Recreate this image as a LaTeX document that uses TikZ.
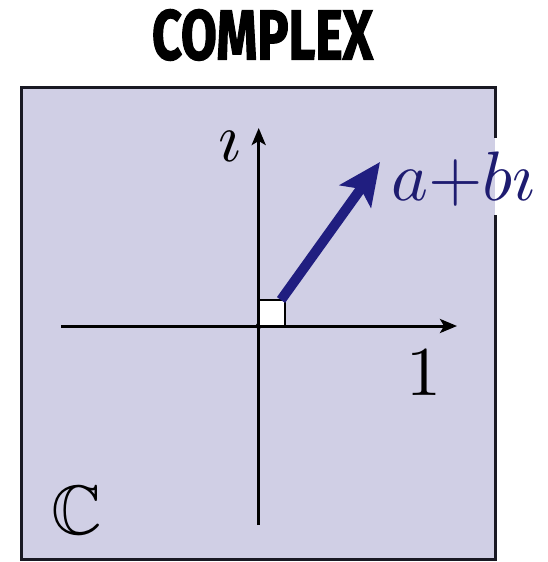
\documentclass[tikz,border=0pt]{standalone}
\usepackage{fontspec}
\usepackage{amssymb}
\usepackage{graphicx}
\usetikzlibrary{arrows.meta}
\newfontfamily\titlefont[BoldFeatures={FakeBold=2}]{Fira Sans}
\definecolor{planefill}{RGB}{208,207,229}
\definecolor{vecblue}{RGB}{32,30,128}
\definecolor{labblue}{RGB}{30,28,112}
\definecolor{borderc}{RGB}{25,25,35}
\tikzset{
  axisline/.style={line width=3pt, black, -{Stealth[length=17pt,width=14pt,inset=4pt]}},
  biglabel/.style={inner sep=0pt},
}
\newcommand{\hugemath}[1]{\scalebox{7}{$#1$}}
\begin{document}
\begin{tikzpicture}[x=1pt,y=-1pt]
\useasboundingbox (0,0) rectangle (548,562);
% title
\node[inner sep=0pt] (title) at (262.5,35) {\resizebox{221pt}{50pt}{\titlefont\bfseries COMPLEX}};
% plane
\fill[planefill] (21,87) rectangle (495,559);
\draw[borderc, line width=3pt] (495,215) -- (495,559) -- (21,559) -- (21,87) -- (495,87) -- (495,138);
% axes
\coordinate (o) at (258.7,326);
\coordinate (xl) at (61,326);
\coordinate (xr) at (457,326);
\coordinate (yb) at (258.7,525);
\coordinate (yt) at (258.7,128);
\draw[axisline] (xl) -- (xr);
\draw[axisline] (yb) -- (yt);
\fill[black] (o) circle (3pt);
% right-angle box
\draw[black, line width=1.5pt, fill=white] (259.5,300) rectangle (285,325.5);
% vector
\coordinate (vs) at (281,300);
\coordinate (ve) at (380,162);
\draw[vecblue, line width=10pt, -{Stealth[length=42pt,width=38pt,inset=9pt]}] (vs) -- (ve);
% labels
\node[biglabel, text=labblue, anchor=base west] (z) at (391,200) {\hugemath{a{+}b\imath}};
\node[biglabel, anchor=base] (ilab) at (230,161) {\hugemath{\imath}};
\node[biglabel, anchor=base] (one) at (423.5,395) {\hugemath{1}};
\node[biglabel, anchor=base] (cc) at (76.5,534) {\hugemath{\mathbb{C}}};
\end{tikzpicture}
\end{document}
